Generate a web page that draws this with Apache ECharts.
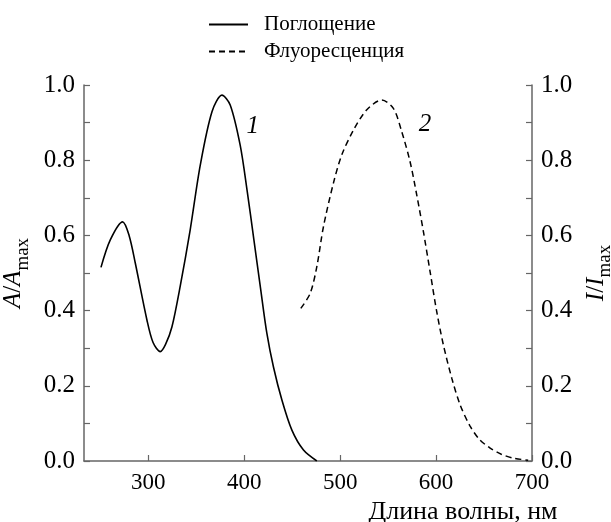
<!DOCTYPE html>
<html>
<head>
<meta charset="utf-8">
<script src="https://cdn.jsdelivr.net/npm/echarts@6/dist/echarts.min.js"></script>
<style>
  html, body { margin: 0; padding: 0; background: #fff; }
  #chart { width: 611px; height: 522px; }
</style>
</head>
<body>
<div id="chart"></div>
<script>
var font = 'Liberation Serif';

// кривая 1 - поглощение
var absWave = [250.7, 260.4, 273.3, 280, 286.5, 298.6, 305, 312.5, 318, 324.7, 333.3, 343.7, 354.2, 366.4, 376.8, 385.4, 395.8, 403, 410, 417, 423.6, 430.5, 439.3, 449.7, 461.8, 475.7];
var absVal  = [0.515, 0.588, 0.636, 0.60, 0.526, 0.375, 0.315, 0.291, 0.31, 0.357, 0.465, 0.615, 0.787, 0.929, 0.973, 0.947, 0.84, 0.72, 0.59, 0.46, 0.34, 0.25, 0.162, 0.082, 0.029, 0.0];

// кривая 2 - флуоресценция
var fluWave = [459, 468.8, 475.7, 482.6, 493, 501.7, 513.9, 527.8, 543.4, 555.5, 564.2, 572.9, 579.9, 586.8, 593.8, 600.7, 607.6, 616.4, 625, 635, 645, 656, 668, 680, 696];
var fluVal  = [0.406, 0.446, 0.517, 0.623, 0.739, 0.814, 0.880, 0.934, 0.960, 0.938, 0.876, 0.796, 0.707, 0.61, 0.503, 0.397, 0.309, 0.22, 0.15, 0.095, 0.058, 0.035, 0.018, 0.008, 0.002];

var xTicks = [300, 400, 500, 600, 700];
var legendNames = ['Поглощение', 'Флуоресценция'];

function pairs(xs, ys) {
  var out = [];
  for (var i = 0; i < xs.length; i++) out.push([xs[i], ys[i]]);
  return out;
}

var axisColor = '#666';
var nameRich = {
  i: { fontFamily: font, fontSize: 25, fontStyle: 'italic', color: '#000', lineHeight: 38, verticalAlign: 'middle' },
  n: { fontFamily: font, fontSize: 25, color: '#000', lineHeight: 38, verticalAlign: 'middle' },
  s: { fontFamily: font, fontSize: 19, color: '#000', lineHeight: 38, verticalAlign: 'bottom' }
};

function yAxis(pos, name, gap) {
  return {
    type: 'value', position: pos, min: 0, max: 1, interval: 0.2,
    name: name, nameLocation: 'middle', nameRotate: 90, nameGap: gap,
    nameTextStyle: { rich: nameRich },
    axisLine: { show: true, lineStyle: { color: axisColor, width: 1.5 } },
    axisTick: { show: true, inside: true, length: 6, lineStyle: { color: axisColor, width: 1.2 } },
    minorTick: { show: true, splitNumber: 2, length: 6, lineStyle: { color: axisColor, width: 1.2 } },
    axisLabel: {
      margin: 9, color: '#000', fontFamily: font, fontSize: 25,
      formatter: function (v) { return v.toFixed(1); }
    },
    splitLine: { show: false }
  };
}

var chart = echarts.init(document.getElementById('chart'));
var option = {
  animation: false,
  backgroundColor: '#fff',
  grid: { left: 84, right: 79, top: 85, bottom: 61, containLabel: false, outerBoundsMode: 'none' },
  legend: {
    orient: 'vertical', left: 203, top: 9, itemWidth: 39, itemHeight: 14, itemGap: 6,
    data: legendNames,
    itemStyle: { color: 'rgba(0,0,0,0)', borderWidth: 0, opacity: 0 },
    textStyle: { fontFamily: font, fontSize: 21, color: '#000', padding: [0, 0, 0, 11] }
  },
  xAxis: {
    type: 'value', min: 233, max: 700,
    axisLabel: { margin: 10, customValues: xTicks, color: '#000', fontFamily: font, fontSize: 23 },
    axisTick: { show: true, inside: true, length: 6, customValues: xTicks, lineStyle: { color: axisColor, width: 1.2 } },
    axisLine: { lineStyle: { color: axisColor, width: 1.5 } },
    splitLine: { show: false },
    name: 'Длина волны, нм', nameLocation: 'middle', nameGap: 34,
    nameTextStyle: { fontFamily: font, fontSize: 26, color: '#000', padding: [0, 0, 0, 310] }
  },
  yAxis: [
    yAxis('left', '{i|A}{n|/}{i|A}{s|max}', 45),
    yAxis('right', '{i|I}{n|/}{i|I}{s|max}', 45)
  ],
  series: [
    {
      name: legendNames[0], type: 'line', yAxisIndex: 0, smooth: 0.3, symbol: 'none',
      lineStyle: { color: '#000', width: 1.6 }, itemStyle: { color: '#000' },
      data: pairs(absWave, absVal),
      markPoint: {
        symbol: 'circle', symbolSize: 0,
        label: { show: true, position: 'inside', formatter: '1', fontFamily: font, fontStyle: 'italic', fontSize: 25, color: '#000' },
        data: [{ coord: [409, 0.89] }]
      }
    },
    {
      name: legendNames[1], type: 'line', yAxisIndex: 1, smooth: 0.3, symbol: 'none',
      lineStyle: { color: '#000', width: 1.5, type: [6, 4] }, itemStyle: { color: '#000' },
      data: pairs(fluWave, fluVal),
      markPoint: {
        symbol: 'circle', symbolSize: 0,
        label: { show: true, position: 'inside', formatter: '2', fontFamily: font, fontStyle: 'italic', fontSize: 25, color: '#000' },
        data: [{ coord: [588.5, 0.895] }]
      }
    }
  ]
};
chart.setOption(option);
</script>
</body>
</html>
